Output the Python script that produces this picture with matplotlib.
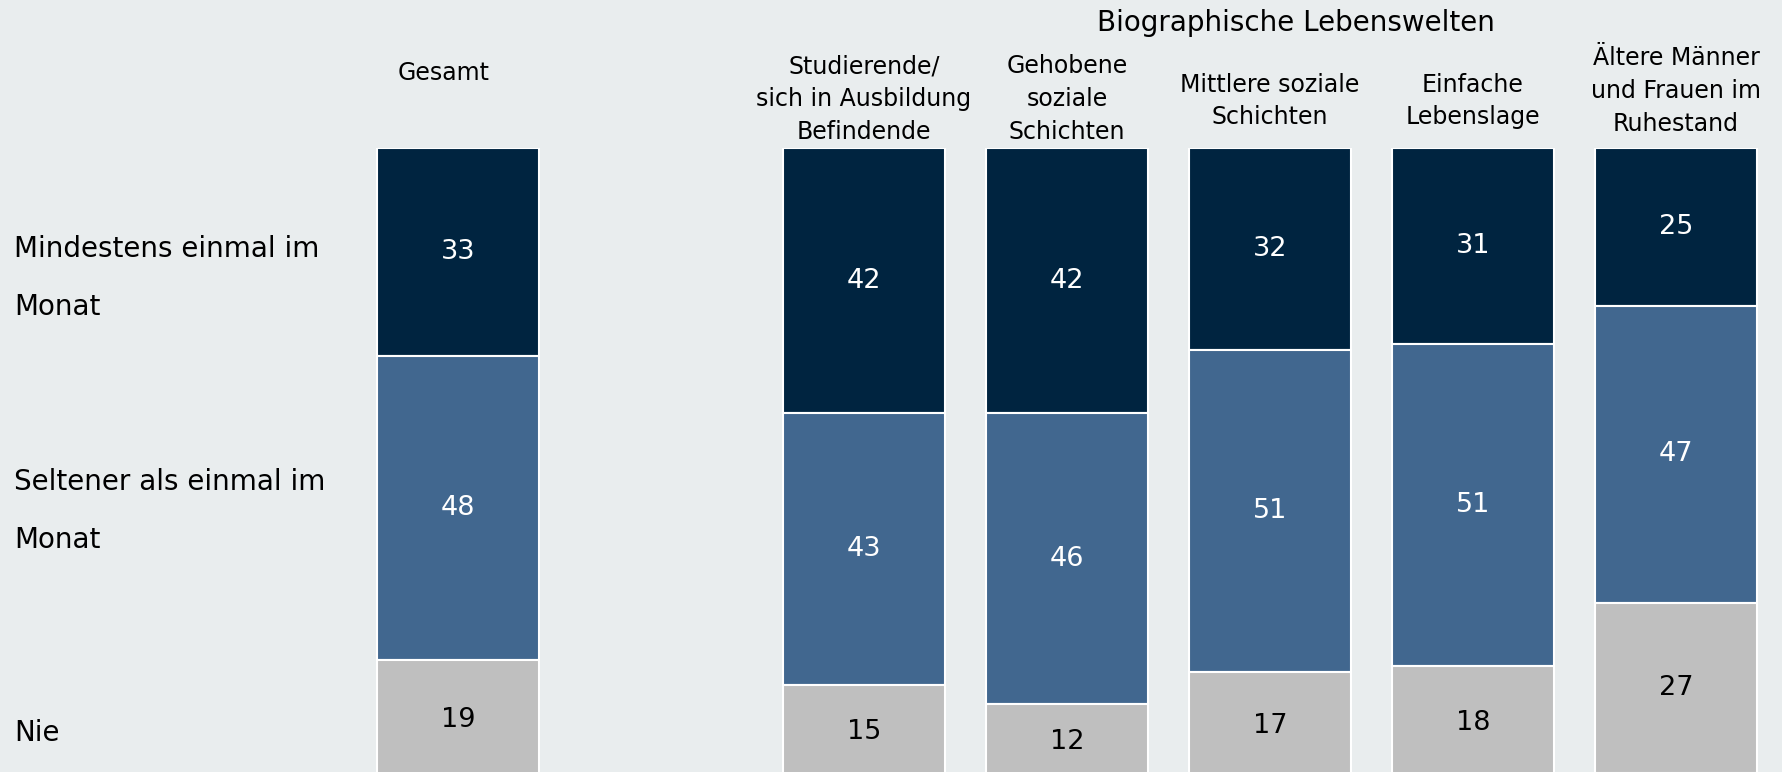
import matplotlib
matplotlib.use("Agg")
import matplotlib.pyplot as plt
import numpy as np

plt.rcParams['font.family'] = ['DejaVu Sans']

categories = ["Gesamt",
              "Studierende/\nsich in Ausbildung\nBefindende",
              "Gehobene\nsoziale\nSchichten",
              "Mittlere soziale\nSchichten",
              "Einfache\nLebenslage",
              "Ältere Männer\nund Frauen im\nRuhestand"]
series_names = ["Mindestens einmal im\nMonat", "Seltener als einmal im\nMonat", "Nie"]
mindestens = [33, 42, 42, 32, 31, 25]
seltener = [48, 43, 46, 51, 51, 47]
nie = [19, 15, 12, 17, 18, 27]
group_title = "Biographische Lebenswelten"

colors = ["#002440", "#41678F", "#BFBFBF"]
text_colors = ["white", "white", "black"]
bg = "#E9EDEE"

W, H = 1782, 772
top_px = 148
ymax = 98.8
ppu = (H - top_px) / ymax

fig = plt.figure(figsize=(W / 100, H / 100), dpi=100, facecolor=bg)
ax = fig.add_axes([0, 0, 1, (H - top_px) / H])
ax.set_facecolor(bg)

x = np.array([0, 2, 3, 4, 5, 6], dtype=float)
unit = 203.0
ax.set_xlim(-458 / unit, (W - 458) / unit)
ax.set_ylim(ymax, 0)
ax.axis("off")

bottom = np.zeros(len(x))
for vals, c, tc in zip([mindestens, seltener, nie], colors, text_colors):
    vals = np.array(vals, dtype=float)
    ax.bar(x, vals, bottom=bottom, width=0.8, color=c, edgecolor="white",
           linewidth=1.5, align="center")
    for xi, b, v in zip(x, bottom, vals):
        ax.text(xi, b + v / 2, f"{int(v)}", ha="center", va="center",
                color=tc, fontsize=19.5)
    bottom += vals

# category labels (y in pixel rows from the top of the figure)
cat_ypx = [73, 99, 99, 101, 101, 91]
cat_dx = [-0.07, 0, 0, 0, 0, 0]
for xi, lab, ypx, dx in zip(x, categories, cat_ypx, cat_dx):
    ax.text(xi + dx, (ypx - top_px) / ppu, lab, ha="center", va="center",
            fontsize=17, linespacing=1.45, clip_on=False)

ax.text((1296 - 458) / unit, (23 - top_px) / ppu, group_title, ha="center",
        va="center", fontsize=20, clip_on=False)

# series labels at left
left_x = (14 - 458) / unit
for lab, ypx in zip(series_names, [278, 511, 733]):
    ax.text(left_x, (ypx - top_px) / ppu, lab, ha="left", va="center",
            fontsize=20, linespacing=2.4, clip_on=False)

fig.savefig("out.png", dpi=100, facecolor=bg)
